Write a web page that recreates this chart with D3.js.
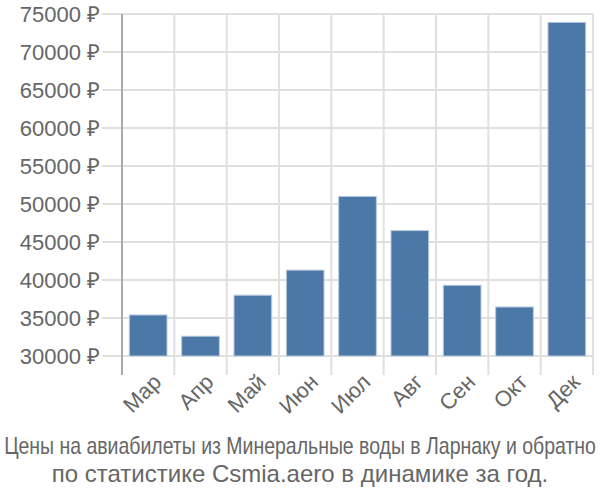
<!doctype html>
<html>
  <head>
    <meta charset="utf-8">
    <script src="https://d3js.org/d3.v7.min.js"></script>
    <style>
      body { margin: 0; background: #fff; }
      text { font-family: "Liberation Sans", Arial, sans-serif; fill: #666; }
    </style>
  </head>
  <body>
    <div id="graphic"></div>
    <script>

  var months = ["Мар", "Апр", "Май", "Июн", "Июл", "Авг", "Сен", "Окт", "Дек"];
  var prices = [35400, 32600, 38000, 41300, 51000, 46500, 39300, 36450, 73900];
  var yTicks = [30000, 35000, 40000, 45000, 50000, 55000, 60000, 65000, 70000, 75000];
  var titleLines = ["Цены на авиабилеты из Минеральные воды в Ларнаку и обратно",
                    "по статистике Csmia.aero в динамике за год."];

// Set borders
  var margin = {top: 14, right: 7, bottom: 144, left: 122};
  var width = 600 - margin.left - margin.right,
      height = 500 - margin.top - margin.bottom;

  var svg = d3.select("#graphic").append("svg")
    .attr("width", 600)
    .attr("height", 500);

  var g = svg.append("g")
    .attr("transform", "translate(" + margin.left + "," + margin.top + ")");

  var xScale = d3.scaleBand().domain(months).range([0, width])
    .paddingInner(0.28).paddingOuter(0.14);
  var yScale = d3.scaleLinear().domain([30000, 75000]).range([height, 0]);

// horizontal grid + y labels
  g.append("g")
    .selectAll("line")
    .data(yTicks)
    .enter()
    .append("line")
    .attr("x1", -20)
    .attr("x2", width)
    .attr("y1", d => yScale(d))
    .attr("y2", d => yScale(d))
    .style("stroke", "#e0e0e0")
    .style("stroke-width", "2px");

  g.append("g")
    .selectAll("text")
    .data(yTicks)
    .enter()
    .append("text")
    .attr("x", -22)
    .attr("y", d => yScale(d))
    .attr("dy", "0.35em")
    .attr("text-anchor", "end")
    .style("font-size", "22px")
    .text(d => d + " ₽");

// vertical grid at band edges
  var step = xScale.step();
  var edges = months.map((m, i) => i * step).concat([width]);
  g.append("g")
    .selectAll("line")
    .data(edges.slice(1))
    .enter()
    .append("line")
    .attr("x1", d => d)
    .attr("x2", d => d)
    .attr("y1", 0)
    .attr("y2", height + 19)
    .style("stroke", "#e0e0e0")
    .style("stroke-width", "2px");

// bars
  g.selectAll("rect")
    .data(months)
    .enter()
    .append("rect")
    .attr("x", d => xScale(d))
    .attr("width", xScale.bandwidth())
    .attr("y", (d, i) => yScale(prices[i]))
    .attr("height", (d, i) => height - yScale(prices[i]))
    .style("fill", "#4c78a8")
    .style("stroke", "#b9c9dc")
    .style("stroke-width", "1px");

// left axis line
  g.append("line")
    .attr("x1", 0).attr("x2", 0)
    .attr("y1", 0).attr("y2", height + 19)
    .style("stroke", "#aaa")
    .style("stroke-width", "2px");

// x labels
  g.append("g")
    .selectAll("text")
    .data(months)
    .enter()
    .append("text")
    .attr("text-anchor", "end")
    .attr("transform", d => "translate(" + (xScale(d) + xScale.bandwidth() / 2 + 9) + "," + (height + 22) + ")rotate(-45)")
    .attr("dy", "0.35em")
    .style("font-size", "22px")
    .text(d => d);

// title (first line squeezed horizontally to fit)
  var t1 = svg.append("text")
    .attr("text-anchor", "middle")
    .style("font-size", "23px")
    .text(titleLines[0]);
  var w1 = t1.node().getComputedTextLength();
  t1.attr("transform", "translate(300,454) scale(" + Math.min(1, 592 / w1) + ",1)");

  svg.append("text")
    .attr("x", 300)
    .attr("y", 482)
    .attr("text-anchor", "middle")
    .style("font-size", "24px")
    .text(titleLines[1]);

    </script>
  </body>
</html>
